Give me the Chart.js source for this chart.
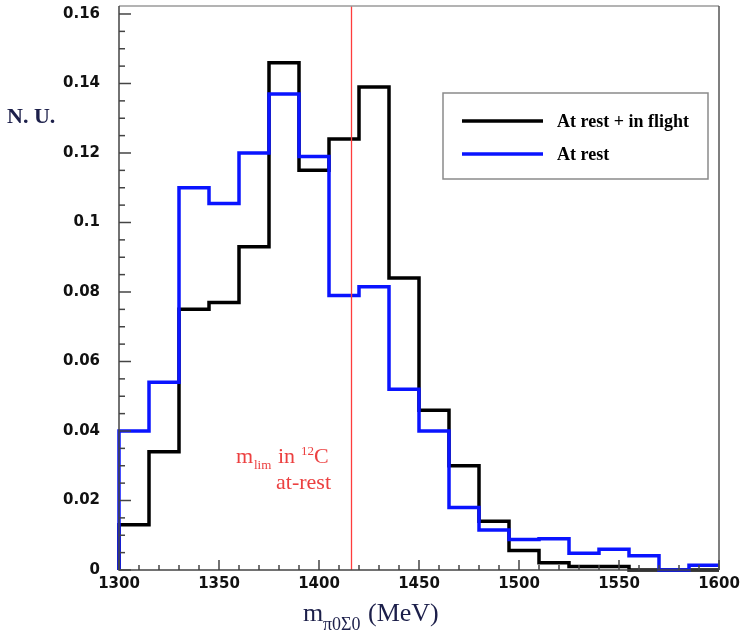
<!DOCTYPE html>
<html>
<head>
<meta charset="utf-8">
<script src="https://cdn.jsdelivr.net/npm/chart.js@4.4.1/dist/chart.umd.min.js"></script>
<style>
  html, body { margin: 0; padding: 0; background: #ffffff; }
  #wrap { width: 744px; height: 632px; position: relative; }
</style>
</head>
<body>
<div id="wrap"><canvas id="c" width="744" height="632"></canvas></div>
<script>
// ---- data ----
const binEdges = [1300, 1315, 1330, 1345, 1360, 1375, 1390, 1405, 1420, 1435, 1450,
                  1465, 1480, 1495, 1510, 1525, 1540, 1555, 1570, 1585, 1600];
const restPlusFlight = [0.013, 0.034, 0.075, 0.077, 0.093, 0.146, 0.115, 0.124, 0.139, 0.084,
                        0.046, 0.030, 0.014, 0.0056, 0.0021, 0.001, 0.001, 0, 0, 0];
const atRest = [0.040, 0.054, 0.110, 0.1055, 0.120, 0.137, 0.119, 0.079, 0.0815, 0.052,
                0.040, 0.018, 0.0115, 0.0088, 0.009, 0.0048, 0.006, 0.0041, 0, 0.0014];
const seriesLabels = ['At rest + in flight', 'At rest'];
const xTicks = [1300, 1350, 1400, 1450, 1500, 1550, 1600];
const yTicks = [0, 0.02, 0.04, 0.06, 0.08, 0.1, 0.12, 0.14, 0.16];
const yTickLabels = ['0', '0.02', '0.04', '0.06', '0.08', '0.1', '0.12', '0.14', '0.16'];
const mLim = 1416;

function histPoints(vals) {
  const pts = [{ x: binEdges[0], y: 0 }];
  for (let i = 0; i < vals.length; i++) pts.push({ x: binEdges[i], y: vals[i] });
  pts.push({ x: binEdges[binEdges.length - 1], y: vals[vals.length - 1] });
  return pts;
}

const decor = {
  id: 'decor',
  afterDatasetsDraw(chart) {
    const ctx = chart.ctx;
    const a = chart.chartArea;
    const xs = chart.scales.x, ys = chart.scales.y;
    ctx.save();
    // red limit line
    ctx.strokeStyle = 'rgb(255, 60, 60)';
    ctx.lineWidth = 1.3;
    const lx = Math.round(xs.getPixelForValue(mLim)) + 0.5;
    ctx.beginPath(); ctx.moveTo(lx, a.top); ctx.lineTo(lx, a.bottom); ctx.stroke();

    // frame
    ctx.strokeStyle = '#9a9a9a';
    ctx.lineWidth = 1.5;
    ctx.beginPath(); ctx.moveTo(a.left, a.top); ctx.lineTo(a.right, a.top); ctx.stroke();
    ctx.strokeStyle = '#555';
    ctx.beginPath(); ctx.moveTo(a.right, a.top); ctx.lineTo(a.right, a.bottom); ctx.stroke();
    ctx.strokeStyle = '#444';
    ctx.lineWidth = 1.5;
    ctx.beginPath(); ctx.moveTo(a.left, a.top); ctx.lineTo(a.left, a.bottom); ctx.lineTo(a.right, a.bottom); ctx.stroke();

    // ticks (inside)
    ctx.strokeStyle = '#444';
    ctx.lineWidth = 1.5;
    for (let k = 0; k <= 32; k++) {
      const v = k * 0.005;
      const y = ys.getPixelForValue(v);
      const len = (k % 4 === 0) ? 12 : 6;
      ctx.beginPath(); ctx.moveTo(a.left, y); ctx.lineTo(a.left + len, y); ctx.stroke();
    }
    for (let k = 0; k <= 30; k++) {
      const v = 1300 + k * 10;
      const x = xs.getPixelForValue(v);
      const len = (k % 5 === 0) ? 10 : 5;
      ctx.beginPath(); ctx.moveTo(x, a.bottom); ctx.lineTo(x, a.bottom - len); ctx.stroke();
    }

    // red annotation
    ctx.fillStyle = '#ec4040';
    ctx.textBaseline = 'alphabetic';
    ctx.textAlign = 'left';
    ctx.font = '22px "Liberation Serif"';
    ctx.fillText('m', 236, 463);
    ctx.font = '13px "Liberation Serif"';
    ctx.fillText('lim', 254, 469);
    ctx.font = '22px "Liberation Serif"';
    ctx.fillText('in', 278, 463);
    ctx.font = '13px "Liberation Serif"';
    ctx.fillText('12', 301, 455);
    ctx.font = '22px "Liberation Serif"';
    ctx.fillText('C', 314, 463);
    ctx.textAlign = 'right';
    ctx.fillText('at-rest', 331, 489);

    // y axis title
    ctx.textAlign = 'left';
    ctx.fillStyle = '#1c1f4a';
    ctx.font = 'bold 22px "Liberation Serif"';
    ctx.fillText('N. U.', 7, 123);

    // x axis title
    ctx.fillStyle = '#1c1f4a';
    ctx.font = '26px "Liberation Serif"';
    ctx.fillText('m', 303, 621);
    ctx.font = '18px "Liberation Serif"';
    ctx.fillText('\u03c00\u03a30', 323, 630);
    ctx.font = '26px "Liberation Serif"';
    ctx.fillText('(MeV)', 368, 621);

    // legend
    const lx0 = 443, ly0 = 93, lw = 265, lh = 86;
    ctx.fillStyle = '#ffffff';
    ctx.fillRect(lx0, ly0, lw, lh);
    ctx.strokeStyle = '#8a8a8a';
    ctx.lineWidth = 1.5;
    ctx.strokeRect(lx0, ly0, lw, lh);
    const rows = [121, 154];
    chart.data.datasets.forEach((ds, i) => {
      ctx.strokeStyle = ds.borderColor;
      ctx.lineWidth = 3.5;
      ctx.beginPath(); ctx.moveTo(462, rows[i]); ctx.lineTo(543, rows[i]); ctx.stroke();
      ctx.fillStyle = '#000';
      ctx.font = 'bold 18px "Liberation Serif"';
      ctx.textBaseline = 'middle';
      ctx.fillText(ds.label, 557, rows[i] + 1);
    });
    ctx.restore();
  }
};

new Chart(document.getElementById('c'), {
  type: 'line',
  data: {
    datasets: [
      {
        label: seriesLabels[0],
        data: histPoints(restPlusFlight),
        borderColor: '#000000',
        borderWidth: 3.5,
        stepped: 'before',
        pointRadius: 0,
        fill: false,
        clip: 4,
        order: 2
      },
      {
        label: seriesLabels[1],
        data: histPoints(atRest),
        borderColor: '#0a14ff',
        borderWidth: 3.5,
        stepped: 'before',
        pointRadius: 0,
        fill: false,
        clip: 4,
        order: 1
      }
    ]
  },
  options: {
    responsive: false,
    animation: false,
    devicePixelRatio: 1,
    layout: { padding: { left: 0, right: 25, top: 6, bottom: 0 } },
    plugins: { legend: { display: false }, tooltip: { enabled: false } },
    scales: {
      x: {
        type: 'linear',
        min: 1300,
        max: 1600,
        afterBuildTicks: s => { s.ticks = xTicks.map(v => ({ value: v })); },
        afterFit: s => { s.height = 62; s.paddingLeft = 0; s.paddingRight = 0; s.paddingTop = 0; s.paddingBottom = 0; },
        grid: { display: false, drawTicks: false },
        border: { display: false },
        ticks: {
          autoSkip: false,
          maxRotation: 0,
          padding: 5,
          color: '#111',
          font: { family: '"DejaVu Sans"', weight: 'bold', size: 15 },
          callback: v => String(v)
        }
      },
      y: {
        type: 'linear',
        min: 0,
        max: 0.1623,
        afterBuildTicks: s => { s.ticks = yTicks.map(v => ({ value: v })); },
        afterFit: s => { s.width = 119; s.paddingTop = 0; s.paddingBottom = 0; s.paddingLeft = 0; s.paddingRight = 0; },
        grid: { display: false, drawTicks: false },
        border: { display: false },
        ticks: {
          autoSkip: false,
          padding: 19,
          color: '#111',
          font: { family: '"DejaVu Sans"', weight: 'bold', size: 15 },
          callback: (v, i) => yTickLabels[yTicks.indexOf(v)] ?? ''
        }
      }
    }
  },
  plugins: [decor]
});
</script>
</body>
</html>
